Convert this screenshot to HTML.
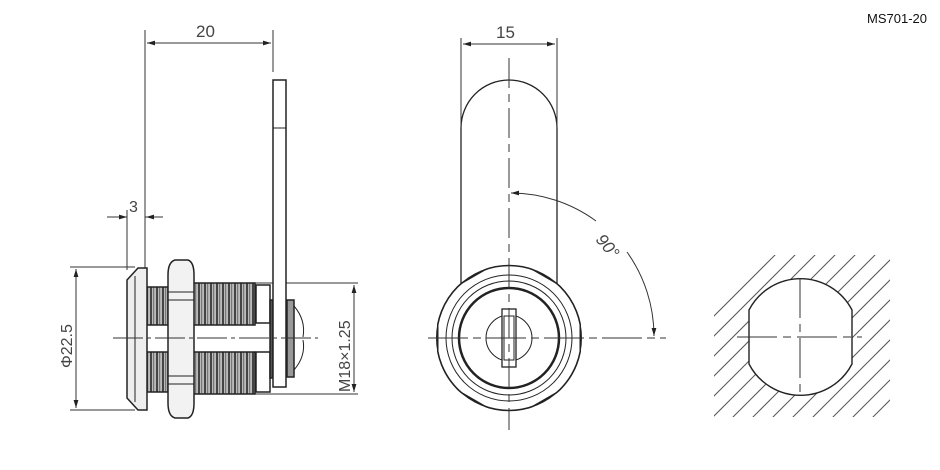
<!DOCTYPE html>
<html><head><meta charset="utf-8"><style>
html,body{margin:0;padding:0;background:#fff}
svg{display:block}
text{font-family:"Liberation Sans",sans-serif;fill:#444}
</style></head><body>
<svg width="940" height="470" viewBox="0 0 940 470" xmlns="http://www.w3.org/2000/svg">
<defs>
<pattern id="thr" width="6" height="10" patternUnits="userSpaceOnUse">
<rect width="6" height="10" fill="#bbb"/>
<rect x="0" width="2" height="10" fill="#444"/>
<rect x="3" width="1.2" height="10" fill="#777"/>
</pattern>
<clipPath id="hc"><rect x="714" y="255" width="176" height="162"/></clipPath>
<clipPath id="cc"><circle cx="509" cy="338" r="73"/></clipPath>
<clipPath id="hx"><polygon points="509,255 581,296.5 581,379.5 509,421 437,379.5 437,296.5"/></clipPath>
<marker id="ar" viewBox="0 0 10 6" refX="10" refY="3" markerWidth="8" markerHeight="5" orient="auto-start-reverse"><path d="M0,0L10,3L0,6z" fill="#222"/></marker>
</defs>
<text x="867" y="23" font-size="13" style="fill:#111">MS701-20</text>

<g stroke="#333" stroke-width="1" fill="none">
<line x1="145" y1="30" x2="145" y2="268"/>
<line x1="273" y1="30" x2="273" y2="72"/>
<line x1="147" y1="43" x2="271" y2="43" marker-start="url(#ar)" marker-end="url(#ar)"/>
<line x1="127" y1="210" x2="127" y2="270"/>
<line x1="107" y1="217" x2="127" y2="217" marker-end="url(#ar)"/>
<line x1="145" y1="217" x2="163" y2="217"/>
<line x1="161" y1="217" x2="146" y2="217" marker-end="url(#ar)"/>
<line x1="70" y1="267" x2="135" y2="267"/>
<line x1="70" y1="410" x2="135" y2="410"/>
<line x1="76" y1="269" x2="76" y2="408" marker-start="url(#ar)" marker-end="url(#ar)"/>
<line x1="255" y1="283" x2="358" y2="283"/>
<line x1="255" y1="394" x2="358" y2="394"/>
<line x1="354" y1="285" x2="354" y2="392" marker-start="url(#ar)" marker-end="url(#ar)"/>
</g>
<text x="196" y="37" font-size="17">20</text>
<text x="129" y="212" font-size="16">3</text>
<text transform="translate(72,368) rotate(-90)" font-size="16">Φ22.5</text>
<text transform="translate(350,392) rotate(-90)" font-size="16">M18×1.25</text>

<g stroke="#222" stroke-width="1.5">
<rect x="147" y="287" width="21" height="38" fill="url(#thr)"/>
<rect x="147" y="352" width="21" height="40" fill="url(#thr)"/>
<rect x="193" y="283" width="62" height="42" fill="url(#thr)"/>
<rect x="193" y="352" width="62" height="42" fill="url(#thr)"/>
<polygon points="138,268 147,268 147,410 138,410 127,398 127,280" fill="#eee"/>
<line x1="135" y1="276" x2="135" y2="402" stroke-width="1"/>
<path d="M175,260 H188 Q194,262 194,275 V403 Q194,416 188,418 H175 Q168,416 168,403 V275 Q168,262 175,260 Z" fill="#f2f2f2"/>
<line x1="168" y1="292" x2="194" y2="292" stroke-width="1"/>
<line x1="168" y1="300" x2="194" y2="300" stroke-width="1"/>
<line x1="168" y1="376" x2="194" y2="376" stroke-width="1"/>
<line x1="168" y1="384" x2="194" y2="384" stroke-width="1"/>
<rect x="256" y="285" width="14" height="38" fill="#fff"/>
<rect x="256" y="352" width="14" height="40" fill="#fff"/>
<rect x="270" y="300" width="3" height="78" fill="#555"/>
<rect x="273" y="80" width="13" height="307" fill="#fff"/>
<line x1="273" y1="128" x2="286" y2="128" stroke-width="1"/>
<rect x="287" y="300" width="7" height="77" fill="#999"/>
<path d="M294,306 Q306,320 303,337 M294,370 Q306,356 303,340" fill="none" stroke-width="1"/>
</g>
<line x1="113" y1="338" x2="318" y2="338" stroke="#333" stroke-width="1" stroke-dasharray="30,4,4,4"/>

<g stroke="#222" stroke-width="1.3" fill="none">
<path d="M461,338 V128 A48,48 0 0 1 557,128 V338"/>
<g clip-path="url(#cc)"><polygon points="509,255 581,296.5 581,379.5 509,421 437,379.5 437,296.5" fill="#fff" stroke-width="3"/></g>
<g clip-path="url(#hx)"><circle cx="509" cy="338" r="72.5" stroke-width="1.6"/></g>
<circle cx="509" cy="338" r="63" stroke-width="1"/>
<circle cx="509" cy="338" r="57" stroke-width="1"/>
<circle cx="509" cy="338" r="50" stroke-width="2.5"/>
<circle cx="509" cy="338" r="23" stroke-width="1"/>
<rect x="502" y="309" width="14" height="58" fill="#fff"/>
<rect x="504" y="316" width="10" height="44" stroke-width="1"/>
</g>
<g stroke="#333" stroke-width="1" fill="none">
<line x1="461" y1="38" x2="461" y2="128"/>
<line x1="557" y1="38" x2="557" y2="128"/>
<line x1="463" y1="44" x2="555" y2="44" marker-start="url(#ar)" marker-end="url(#ar)"/>
<line x1="509" y1="58" x2="509" y2="430" stroke-dasharray="30,6,8,6"/>
<line x1="428" y1="338" x2="666" y2="338" stroke-dasharray="40,5,8,5"/>
<path d="M511,193 A145,145 0 0 1 596,221" marker-start="url(#ar)"/>
<path d="M627,252 A145,145 0 0 1 654,336" marker-end="url(#ar)"/>
</g>
<text x="496" y="38" font-size="17">15</text>
<text transform="translate(595,240) rotate(50)" font-size="17" font-style="italic">90°</text>

<g clip-path="url(#hc)" stroke="#555" stroke-width="1">
<line x1="600" y1="430" x2="800" y2="230"/><line x1="620" y1="430" x2="820" y2="230"/>
<line x1="640" y1="430" x2="840" y2="230"/><line x1="660" y1="430" x2="860" y2="230"/>
<line x1="680" y1="430" x2="880" y2="230"/><line x1="700" y1="430" x2="900" y2="230"/>
<line x1="720" y1="430" x2="920" y2="230"/><line x1="740" y1="430" x2="940" y2="230"/>
<line x1="760" y1="430" x2="960" y2="230"/><line x1="780" y1="430" x2="980" y2="230"/>
<line x1="800" y1="430" x2="1000" y2="230"/><line x1="820" y1="430" x2="1020" y2="230"/>
<line x1="840" y1="430" x2="1040" y2="230"/><line x1="860" y1="430" x2="1060" y2="230"/>
<line x1="880" y1="430" x2="1080" y2="230"/>
</g>
<path d="M749,310 A58,58 0 0 1 852,310 V364 A58,58 0 0 1 749,364 Z" fill="#fff" stroke="#222" stroke-width="1.4"/>
<g stroke="#333" stroke-width="1">
<line x1="737" y1="337" x2="862" y2="337" stroke-dasharray="40,6,8,6"/>
<line x1="800" y1="278" x2="800" y2="398" stroke-dasharray="40,6,8,6"/>
</g>
</svg>
</body></html>
